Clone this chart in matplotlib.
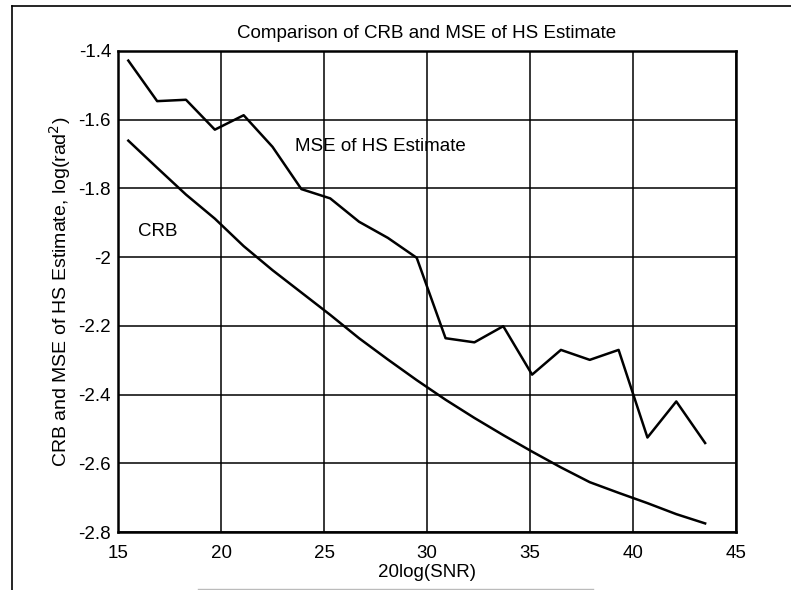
import numpy as np
import matplotlib.pyplot as plt
from matplotlib.lines import Line2D

plt.rcParams['font.family'] = ['Liberation Sans', 'DejaVu Sans']

# SNR grid in dB (20log(SNR))
snr_db = [15.5, 16.9, 18.3, 19.7, 21.1, 22.5, 23.9, 25.3, 26.7, 28.1, 29.5,
          30.9, 32.3, 33.7, 35.1, 36.5, 37.9, 39.3, 40.7, 42.1, 43.5]

# log of mean squared error of the HS estimate
mse_hs = [-1.428, -1.546, -1.542, -1.629, -1.587, -1.679, -1.802, -1.829,
          -1.897, -1.944, -2.002, -2.236, -2.248, -2.201, -2.342, -2.270,
          -2.299, -2.270, -2.525, -2.420, -2.541]

# log of the Cramer-Rao bound
crb = [-1.661, -1.740, -1.818, -1.888, -1.968, -2.038, -2.103, -2.168,
       -2.236, -2.298, -2.358, -2.415, -2.468, -2.518, -2.566, -2.612,
       -2.655, -2.686, -2.716, -2.748, -2.775]

xticks = [15, 20, 25, 30, 35, 40, 45]
yticks = [-2.8, -2.6, -2.4, -2.2, -2.0, -1.8, -1.6, -1.4]
ytick_labels = ['-2.8', '-2.6', '-2.4', '-2.2', '-2', '-1.8', '-1.6', '-1.4']

fs = 13.5

fig = plt.figure(figsize=(7.91, 5.90), dpi=100)
ax = fig.add_axes([0.1492, 0.0983, 0.7813, 0.8153])

ax.plot(snr_db, mse_hs, color='black', lw=1.8)
ax.plot(snr_db, crb, color='black', lw=1.8)

ax.set_xlim(15, 45)
ax.set_ylim(-2.8, -1.4)
ax.set_xticks(xticks)
ax.set_yticks(yticks)
ax.set_yticklabels(ytick_labels)
ax.tick_params(length=0, labelsize=fs)
ax.tick_params(axis='x', pad=9)
ax.tick_params(axis='y', pad=5)
ax.grid(True, color='black', lw=1.1)
ax.set_axisbelow(True)
for s in ax.spines.values():
    s.set_linewidth(1.8)

ax.text(23.6, -1.679, 'MSE of HS Estimate', fontsize=fs, va='center', ha='left')
ax.text(15.97, -1.925, 'CRB', fontsize=fs, va='center', ha='left')

ax.set_title('Comparison of CRB and MSE of HS Estimate', fontsize=fs, pad=9)
ax.set_xlabel('20log(SNR)', fontsize=fs, labelpad=2)
ax.set_ylabel('CRB and MSE of HS Estimate, log(rad$^2$)', fontsize=14, labelpad=4)

# frame around the whole figure
fig.add_artist(Line2D([12 / 791, 12 / 791], [0, 1 - 6 / 590], transform=fig.transFigure,
                      color='black', lw=1.2))
fig.add_artist(Line2D([12 / 791, 1], [1 - 6 / 590, 1 - 6 / 590], transform=fig.transFigure,
                      color='black', lw=1.2))
fig.add_artist(Line2D([0.25, 0.75], [1 / 590, 1 / 590], transform=fig.transFigure,
                      color='#bbbbbb', lw=1.0))

fig.savefig('out.png', dpi=100)
